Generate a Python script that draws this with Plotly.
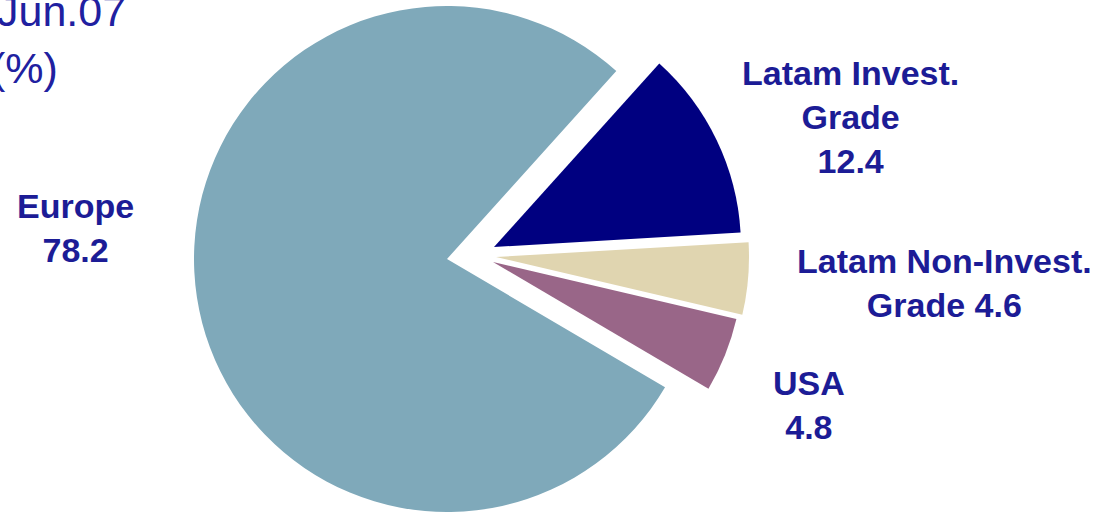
import plotly.graph_objects as go

W, H = 1105, 513

# Portfolio breakdown by region (%)
regions = ["Latam Invest. Grade", "Latam Non-Invest. Grade", "USA", "Europe"]
shares = [12.4, 4.6, 4.8, 78.2]
label_heads = ["Latam Invest.<br>Grade<br>", "Latam Non-Invest.<br>Grade ", "USA<br>", "Europe<br>"]
title_lines = ["Jun.07", "(%)"]

colors = ["#000080", "#E0D5B0", "#996688", "#7FA9BA"]
text_color = "#1C1C96"

# Exploded pie: every slice is drawn from its own apex (px) and radius (px)
apex = [(494, 247), (496, 257), (493, 262), (447, 259)]
radius = [247, 253, 250, 253]
label_pos = [(850, 117), (944, 283), (809, 405), (75, 228)]

fig = go.Figure()
n = len(regions)
for i in range(n):
    cx, cy = apex[i]
    r = radius[i]
    fig.add_trace(go.Pie(
        labels=regions,
        values=shares,
        sort=False,
        direction="clockwise",
        rotation=42,
        marker=dict(
            colors=[colors[j] if j == i else "rgba(0,0,0,0)" for j in range(n)],
            line=dict(width=0),
        ),
        textinfo="none",
        hoverinfo="label+value",
        showlegend=False,
        domain=dict(
            x=[max(0, (cx - r) / W), min(1, (cx + r) / W)],
            y=[max(0, (H - cy - r) / H), min(1, (H - cy + r) / H)],
        ),
    ))

annotations = []
for i in range(n):
    px, py = label_pos[i]
    annotations.append(dict(
        text=f"{label_heads[i]}{shares[i]:.1f}",
        x=px / W, y=1 - py / H, xref="paper", yref="paper",
        xanchor="center", yanchor="middle", showarrow=False, align="center",
        font=dict(family="Liberation Sans, Arial, sans-serif", size=34,
                  color=text_color, weight="bold"),
    ))

# Chart title in the top-left corner
for txt, (px, py) in zip(title_lines, [(128, 11), (60, 68)]):
    annotations.append(dict(
        text=txt, x=px / W, y=1 - py / H, xref="paper", yref="paper",
        xanchor="right", yanchor="middle", showarrow=False,
        font=dict(family="Liberation Sans, Arial, sans-serif", size=43,
                  color="#2020A0"),
    ))

fig.update_layout(
    width=W, height=H,
    margin=dict(l=0, r=0, t=0, b=0),
    paper_bgcolor="white", plot_bgcolor="white",
    annotations=annotations,
)

fig.write_html("out.html")
